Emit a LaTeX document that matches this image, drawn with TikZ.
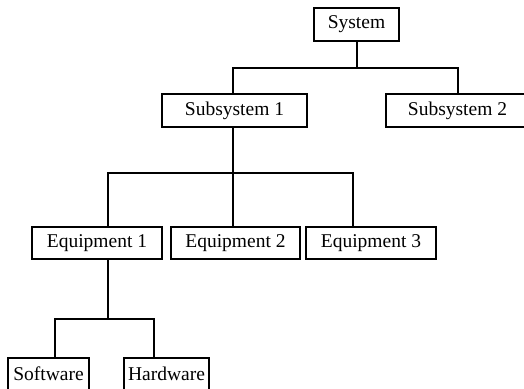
\documentclass[tikz,border=0pt]{standalone}
\usepackage{fontspec}
\setmainfont{Liberation Serif}
\begin{document}
\begin{tikzpicture}[x=1pt,y=-1pt,
  box/.style={draw=black,line width=2.4pt,inner sep=0pt,font=\fontsize{19.5}{22}\selectfont,anchor=center},
  conn/.style={draw=black,line width=2.4pt}]
\useasboundingbox (0,0) rectangle (524,388);
\node[box,minimum width=85pt,minimum height=33pt] (sys) at (356.5,24.5) {System};
\node[box,minimum width=145pt,minimum height=33pt] (sub1) at (234.5,110.5) {Subsystem 1};
\node[box,minimum width=143pt,minimum height=33pt] (sub2) at (457.5,110.5) {Subsystem 2};
\node[box,minimum width=130pt,minimum height=32pt] (eq1) at (97,243) {Equipment 1};
\node[box,minimum width=129pt,minimum height=32pt] (eq2) at (235.5,243) {Equipment 2};
\node[box,minimum width=130pt,minimum height=32pt] (eq3) at (371,243) {Equipment 3};
\node[box,minimum width=81pt,minimum height=32pt] (sw) at (48.5,374) {Software};
\node[box,minimum width=85pt,minimum height=32pt] (hw) at (166.5,374) {Hardware};
% level 1
\coordinate (b1) at (357,68);
\coordinate (b1l) at (233,68);
\coordinate (b1r) at (458,68);
\draw[conn] (b1 |- sys.south) -- (b1);
\draw[conn] (b1l |- sub1.north) -- (b1l) -- (b1r) -- (b1r |- sub2.north);
% level 2
\coordinate (b2) at (233,173);
\coordinate (b2l) at (108,173);
\coordinate (b2r) at (353,173);
\draw[conn] (b2 |- sub1.south) -- (b2);
\draw[conn] (b2l |- eq1.north) -- (b2l) -- (b2r) -- (b2r |- eq3.north);
\draw[conn] (b2) -- (b2 |- eq2.north);
% level 3
\coordinate (b3) at (108,319);
\coordinate (b3l) at (55,319);
\coordinate (b3r) at (154,319);
\draw[conn] (b3 |- eq1.south) -- (b3);
\draw[conn] (b3l |- sw.north) -- (b3l) -- (b3r) -- (b3r |- hw.north);
\end{tikzpicture}
\end{document}
